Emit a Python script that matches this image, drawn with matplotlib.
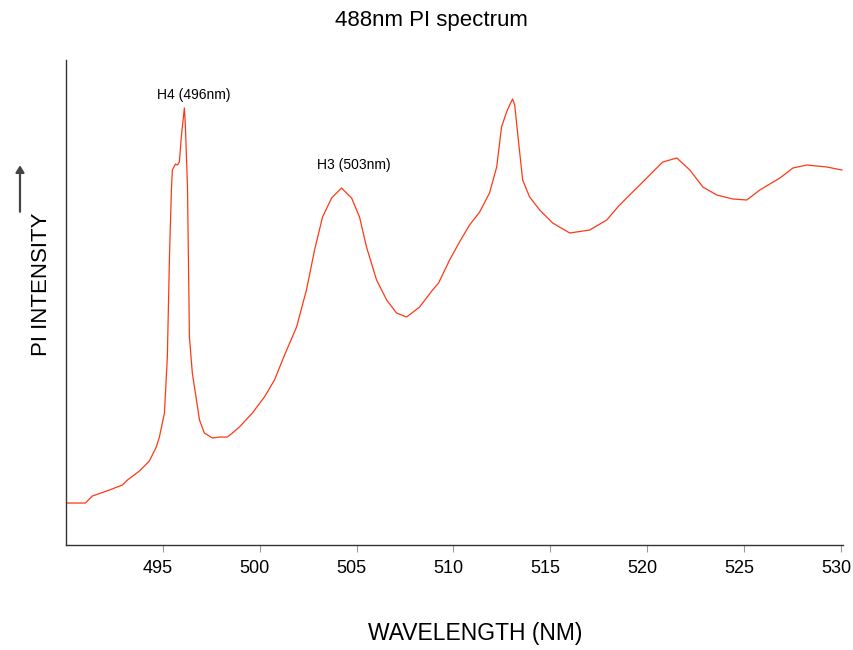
import matplotlib
matplotlib.use("Agg")
import matplotlib.pyplot as plt
import matplotlib.transforms as mtrans
import numpy as np

plt.rcParams['font.family'] = ['Liberation Sans', 'DejaVu Sans']

# wavelength (nm) and PI intensity (arb. units)
wavelength = [490.07, 491.0, 491.36, 492.24, 492.91, 493.17, 493.79, 494.30, 494.66, 494.82,
              495.08, 495.23, 495.34, 495.44, 495.49, 495.65, 495.75, 495.85, 495.96, 496.11,
              496.16, 496.27, 496.37, 496.52, 496.89, 497.14, 497.56, 497.92, 498.33, 498.59,
              498.95, 499.62, 500.24, 500.76, 501.28, 501.90, 502.41, 502.83, 503.24, 503.71,
              504.22, 504.74, 505.15, 505.51, 506.03, 506.55, 507.06, 507.58, 508.25, 508.92,
              509.23, 509.80, 510.31, 510.83, 511.35, 511.86, 512.23, 512.48, 512.74, 512.90,
              513.05, 513.16, 513.31, 513.57, 513.93, 514.45, 515.12, 516.00, 517.03, 517.91,
              518.48, 518.94, 519.77, 520.80, 521.53, 522.20, 522.87, 523.59, 524.42, 525.14,
              525.81, 526.85, 527.52, 528.24, 529.27, 530.05]
intensity = [42, 42, 49, 55, 60, 65, 74, 84, 98, 108,
             132, 188, 288, 355, 375, 381, 380, 383, 410, 437,
             420, 358, 208, 172, 125, 112, 107, 108, 108, 112,
             118, 132, 148, 165, 190, 218, 255, 295, 328, 347,
             357, 347, 328, 298, 265, 245, 232, 228, 238, 255,
             262, 285, 303, 320, 333, 352, 378, 418, 433, 440,
             446, 440, 412, 365, 348, 335, 322, 312, 315, 325,
             338, 347, 363, 383, 387, 375, 358, 350, 346, 345,
             355, 367, 377, 380, 378, 375]

peak_labels = ["H4 (496nm)", "H3 (503nm)"]
peak_pos = [(496.6, 450), (504.85, 380)]

fig = plt.figure(figsize=(8.54, 6.5), dpi=100)
ax = fig.add_axes([0.0773, 0.1615, 0.9097, 0.7462])

ax.plot(wavelength, intensity, color='#ff3814', lw=0.9)

for lab, (px, py) in zip(peak_labels, peak_pos):
    ax.text(px, py, lab, fontsize=10, ha='center', va='center')

ax.set_xlim(490, 530.1)
ax.set_ylim(0, 485)
ax.set_xticks([495, 500, 505, 510, 515, 520, 525, 530])
ax.set_yticks([])
ax.tick_params(axis='x', labelsize=13, length=5, color='#999999', pad=6)
shift = mtrans.ScaledTranslation(-5 / 100, 0, fig.dpi_scale_trans)
for lbl in ax.get_xticklabels():
    lbl.set_transform(lbl.get_transform() + shift)
for s in ['top', 'right']:
    ax.spines[s].set_visible(False)
for s in ['left', 'bottom']:
    ax.spines[s].set_color('#333333')
    ax.spines[s].set_linewidth(1.0)

fig.text(0.505, 0.968, "488nm PI spectrum", ha='center', va='center', fontsize=16)
fig.text(0.556, 0.025, "WAVELENGTH (NM)", ha='center', va='center', fontsize=16.5)
fig.text(0.049, 0.562, "PI INTENSITY", ha='center', va='center', rotation=90, fontsize=16)

fig.add_artist(matplotlib.patches.FancyArrowPatch(
    (0.0234, 0.670), (0.0234, 0.750), transform=fig.transFigure,
    arrowstyle='-|>,head_length=4,head_width=2.5', color='#444444', lw=1.6,
    mutation_scale=1))

fig.savefig("out.png", dpi=100)
